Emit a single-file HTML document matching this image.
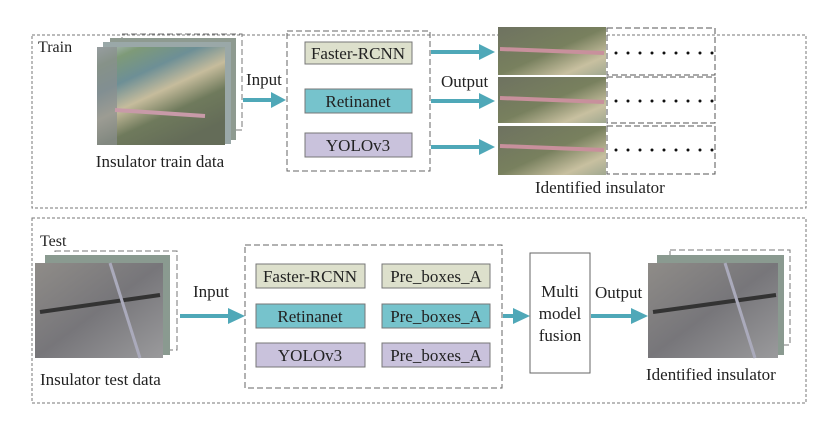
<!DOCTYPE html>
<html><head><style>
body{margin:0;background:#fff}
svg{display:block}
text{font-family:"Liberation Serif",serif;fill:#222}
</style></head><body>
<svg width="830" height="421" viewBox="0 0 830 421" xmlns="http://www.w3.org/2000/svg">
<defs>
<linearGradient id="tr" x1="0" y1="0" x2="0.6" y2="1">
<stop offset="0" stop-color="#b4c0c4"/><stop offset="0.15" stop-color="#7e9a78"/><stop offset="0.35" stop-color="#6d8f96"/><stop offset="0.55" stop-color="#c6bc9c"/><stop offset="0.75" stop-color="#6f7a5c"/><stop offset="1" stop-color="#646c58"/></linearGradient>
<linearGradient id="ri" x1="0" y1="0" x2="1" y2="1">
<stop offset="0" stop-color="#6e7260"/><stop offset="0.5" stop-color="#78805e"/><stop offset="0.8" stop-color="#c8c0a0"/><stop offset="1" stop-color="#a0a890"/></linearGradient>
<linearGradient id="te" x1="0" y1="0" x2="1" y2="1">
<stop offset="0" stop-color="#8f8c88"/><stop offset="0.5" stop-color="#77767a"/><stop offset="1" stop-color="#9a9a9c"/></linearGradient>
</defs>
<g fill="none" stroke="#777" stroke-dasharray="3,2" stroke-width="1">
<rect x="32" y="35" width="774" height="173"/>
<rect x="32" y="218" width="774" height="185"/>
</g>
<text x="38" y="52" font-size="16">Train</text>
<text x="40" y="246" font-size="16">Test</text>
<!-- train images -->
<rect x="122" y="34" width="120" height="96" fill="none" stroke="#777" stroke-dasharray="6,3"/>
<rect x="110" y="38" width="126" height="102" fill="#8e9a90"/>
<rect x="103" y="42" width="128" height="102" fill="#9aa8a8"/>
<rect x="97" y="47" width="128" height="98" fill="url(#tr)"/>
<rect x="97" y="47" width="20" height="98" fill="#8a8e90" opacity="0.7"/>
<line x1="115" y1="110" x2="205" y2="116" stroke="#c89aa8" stroke-width="4"/>
<text x="160" y="167" font-size="17" text-anchor="middle">Insulator train data</text>
<text x="246" y="85" font-size="17">Input</text>
<g fill="#4fa8b8">
<rect x="243" y="98" width="30" height="4"/><polygon points="271,92 286,100 271,108"/>
<!-- train outputs -->
<rect x="431" y="50" width="50" height="4"/><polygon points="479,44 495,52 479,60"/>
<rect x="431" y="99" width="50" height="4"/><polygon points="479,93 495,101 479,109"/>
<rect x="431" y="145" width="50" height="4"/><polygon points="479,139 495,147 479,155"/>
<!-- test -->
<rect x="180" y="314" width="50" height="4"/><polygon points="228,308 245,316 228,324"/>
<rect x="503" y="314" width="12" height="4"/><polygon points="513,308 530,316 513,324"/>
<rect x="591" y="314" width="42" height="4"/><polygon points="631,308 648,316 631,324"/>
</g>
<rect x="287" y="31" width="143" height="140" fill="none" stroke="#666" stroke-dasharray="6,3"/>
<rect x="305" y="42" width="107" height="22" fill="#dde0cc" stroke="#777"/>
<text x="358" y="59" font-size="17" text-anchor="middle">Faster-RCNN</text>
<rect x="305" y="89" width="107" height="24" fill="#76c3cc" stroke="#777"/>
<text x="358" y="107" font-size="17" text-anchor="middle">Retinanet</text>
<rect x="305" y="133" width="107" height="24" fill="#c9c2dc" stroke="#777"/>
<text x="358" y="151" font-size="17" text-anchor="middle">YOLOv3</text>
<text x="441" y="87" font-size="17">Output</text>
<g>
<rect x="498" y="27" width="108" height="48" fill="url(#ri)"/>
<rect x="498" y="77" width="108" height="46" fill="url(#ri)"/>
<rect x="498" y="126" width="108" height="49" fill="url(#ri)"/>
<g stroke="#c8909c" stroke-width="4"><line x1="500" y1="49" x2="604" y2="53"/><line x1="500" y1="98" x2="604" y2="102"/><line x1="500" y1="146" x2="604" y2="150"/></g>
<g fill="none" stroke="#555" stroke-dasharray="6,3"><rect x="607" y="28" width="108" height="47"/><rect x="607" y="77" width="108" height="46"/><rect x="607" y="126" width="108" height="48"/></g>
<g stroke="#111" stroke-width="3" stroke-linecap="round" stroke-dasharray="0,12"><line x1="616" y1="53" x2="715" y2="53"/><line x1="616" y1="101" x2="715" y2="101"/><line x1="616" y1="150" x2="715" y2="150"/></g>
</g>
<text x="535" y="193" font-size="17">Identified insulator</text>
<!-- test -->
<rect x="55" y="251" width="122" height="99" fill="none" stroke="#777" stroke-dasharray="6,3"/>
<rect x="45" y="255" width="125" height="100" fill="#8a9a90"/>
<rect x="35" y="263" width="128" height="95" fill="url(#te)"/>
<line x1="40" y1="312" x2="160" y2="295" stroke="#333" stroke-width="4"/>
<line x1="110" y1="263" x2="140" y2="358" stroke="#aab" stroke-width="3"/>
<text x="40" y="385" font-size="17">Insulator test data</text>
<text x="193" y="297" font-size="17">Input</text>
<rect x="245" y="245" width="257" height="143" fill="none" stroke="#666" stroke-dasharray="6,3"/>
<g stroke="#777">
<rect x="256" y="264" width="109" height="24" fill="#dde0cc"/>
<rect x="382" y="264" width="108" height="24" fill="#dde0cc"/>
<rect x="256" y="304" width="109" height="24" fill="#76c3cc"/>
<rect x="382" y="304" width="108" height="24" fill="#76c3cc"/>
<rect x="256" y="343" width="109" height="24" fill="#c9c2dc"/>
<rect x="382" y="343" width="108" height="24" fill="#c9c2dc"/>
</g>
<g font-size="17" text-anchor="middle">
<text x="310" y="282">Faster-RCNN</text><text x="436" y="282">Pre_boxes_A</text>
<text x="310" y="322">Retinanet</text><text x="436" y="322">Pre_boxes_A</text>
<text x="310" y="361">YOLOv3</text><text x="436" y="361">Pre_boxes_A</text>
</g>
<rect x="530" y="253" width="60" height="120" fill="#fff" stroke="#666"/>
<g font-size="17" text-anchor="middle"><text x="560" y="297">Multi</text><text x="560" y="319">model</text><text x="560" y="341">fusion</text></g>
<text x="595" y="298" font-size="17">Output</text>
<rect x="670" y="250" width="120" height="95" fill="none" stroke="#777" stroke-dasharray="6,3"/>
<rect x="657" y="255" width="127" height="100" fill="#8a9a90"/>
<rect x="648" y="263" width="130" height="95" fill="url(#te)"/>
<line x1="653" y1="312" x2="776" y2="295" stroke="#333" stroke-width="4"/>
<line x1="725" y1="263" x2="755" y2="358" stroke="#aab" stroke-width="3"/>
<text x="646" y="380" font-size="17">Identified insulator</text>
</svg>
</body></html>
